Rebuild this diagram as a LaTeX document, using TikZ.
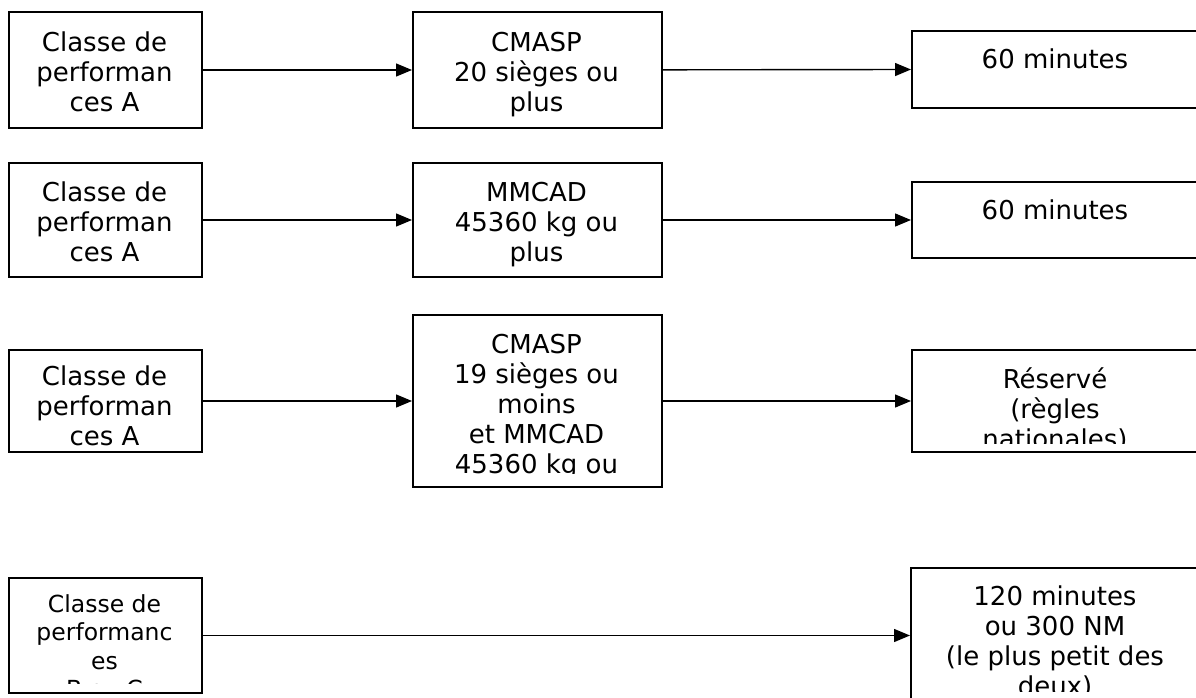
\documentclass[tikz,border=0pt]{standalone}
\usepackage{fontspec}
\setmainfont{DejaVu Sans}
\usetikzlibrary{arrows.meta}
\begin{document}
\begin{tikzpicture}[x=1pt,y=-1pt,
  box/.style={draw, line width=2pt, inner sep=0pt, anchor=north west},
  lbl/.style={anchor=north, inner sep=0pt, align=center, font=\fontsize{26}{30}\selectfont},
  lbls/.style={lbl, font=\fontsize{23.5}{28.5}\selectfont},
  arr/.style={line width=1.4pt, -{Triangle[length=16pt,width=13pt]}}]
\useasboundingbox[fill=white] (0,0) rectangle (1196,698);

% ---- boxes ----
\node[box, minimum width=193pt, minimum height=116pt] (L1) at (8,11) {};
\node[box, minimum width=249pt, minimum height=116pt] (M1) at (412,11) {};
\node[box, minimum width=288pt, minimum height=77pt] (R1) at (911,30) {};

\node[box, minimum width=193pt, minimum height=114pt] (L2) at (8,162) {};
\node[box, minimum width=249pt, minimum height=114pt] (M2) at (412,162) {};
\node[box, minimum width=288pt, minimum height=76pt] (R2) at (911,181) {};

\node[box, minimum width=193pt, minimum height=102pt] (L3) at (8,349) {};
\node[box, minimum width=249pt, minimum height=172pt] (M3) at (412,314) {};
\node[box, minimum width=288pt, minimum height=102pt] (R3) at (911,349) {};

\node[box, minimum width=193pt, minimum height=115pt] (L4) at (8,577) {};
\node[box, minimum width=289pt, minimum height=135pt] (R4) at (910,567) {};

% ---- texts ----
\begin{scope}\clip (10,13) rectangle (199,125);
\node[lbl] (tL1) at (104.5,27) {\rule{0pt}{24pt}Classe de\\performan\\ces A};\end{scope}
\begin{scope}\clip (414,13) rectangle (659,125);
\node[lbl] (tM1) at (536.5,27) {\rule{0pt}{24pt}CMASP\\20 sièges ou\\plus};\end{scope}
\begin{scope}\clip (913,32) rectangle (1196,105);
\node[lbl] (tR1) at (1055,44) {\rule{0pt}{24pt}60 minutes};\end{scope}

\begin{scope}\clip (10,164) rectangle (199,274);
\node[lbl] (tL2) at (104.5,177) {\rule{0pt}{24pt}Classe de\\performan\\ces A};\end{scope}
\begin{scope}\clip (414,164) rectangle (659,274);
\node[lbl] (tM2) at (536.5,177) {\rule{0pt}{24pt}MMCAD\\45360 kg ou\\plus};\end{scope}
\begin{scope}\clip (913,183) rectangle (1196,255);
\node[lbl] (tR2) at (1055,195) {\rule{0pt}{24pt}60 minutes};\end{scope}

\begin{scope}\clip (10,351) rectangle (199,449);
\node[lbl] (tL3) at (104.5,361) {\rule{0pt}{24pt}Classe de\\performan\\ces A};\end{scope}
\begin{scope}\clip (414,316) rectangle (659,473);
\node[lbl] (tM3) at (536.5,329) {\rule{0pt}{24pt}CMASP\\19 sièges ou\\moins\\et MMCAD\\45360 kg ou\\plus};\end{scope}
\begin{scope}\clip (913,351) rectangle (1196,443);
\node[lbl] (tR3) at (1055,364) {\rule{0pt}{24pt}Réservé\\(règles\\nationales)};\end{scope}

\begin{scope}\clip (10,579) rectangle (199,683);
\node[lbls] (tL4) at (104.5,590) {\rule{0pt}{22pt}Classe de\\performanc\\es\\B ou C};\end{scope}
\begin{scope}\clip (912,569) rectangle (1196,691);
\node[lbl] (tR4) at (1055,581) {\rule{0pt}{24pt}120 minutes\\ou 300 NM\\(le plus petit des\\deux)};\end{scope}

% ---- connectors ----
\draw[arr] (L1) -- (M1);
\draw[arr] (M1) -- (R1.west);
\draw[arr] (L2) -- (M2);
\draw[arr] (M2) -- (R2);
\draw[arr] (L3) -- (M3);
\draw[arr] (M3) -- (R3);
\draw[arr] (L4) -- (R4);
\end{tikzpicture}
\end{document}
